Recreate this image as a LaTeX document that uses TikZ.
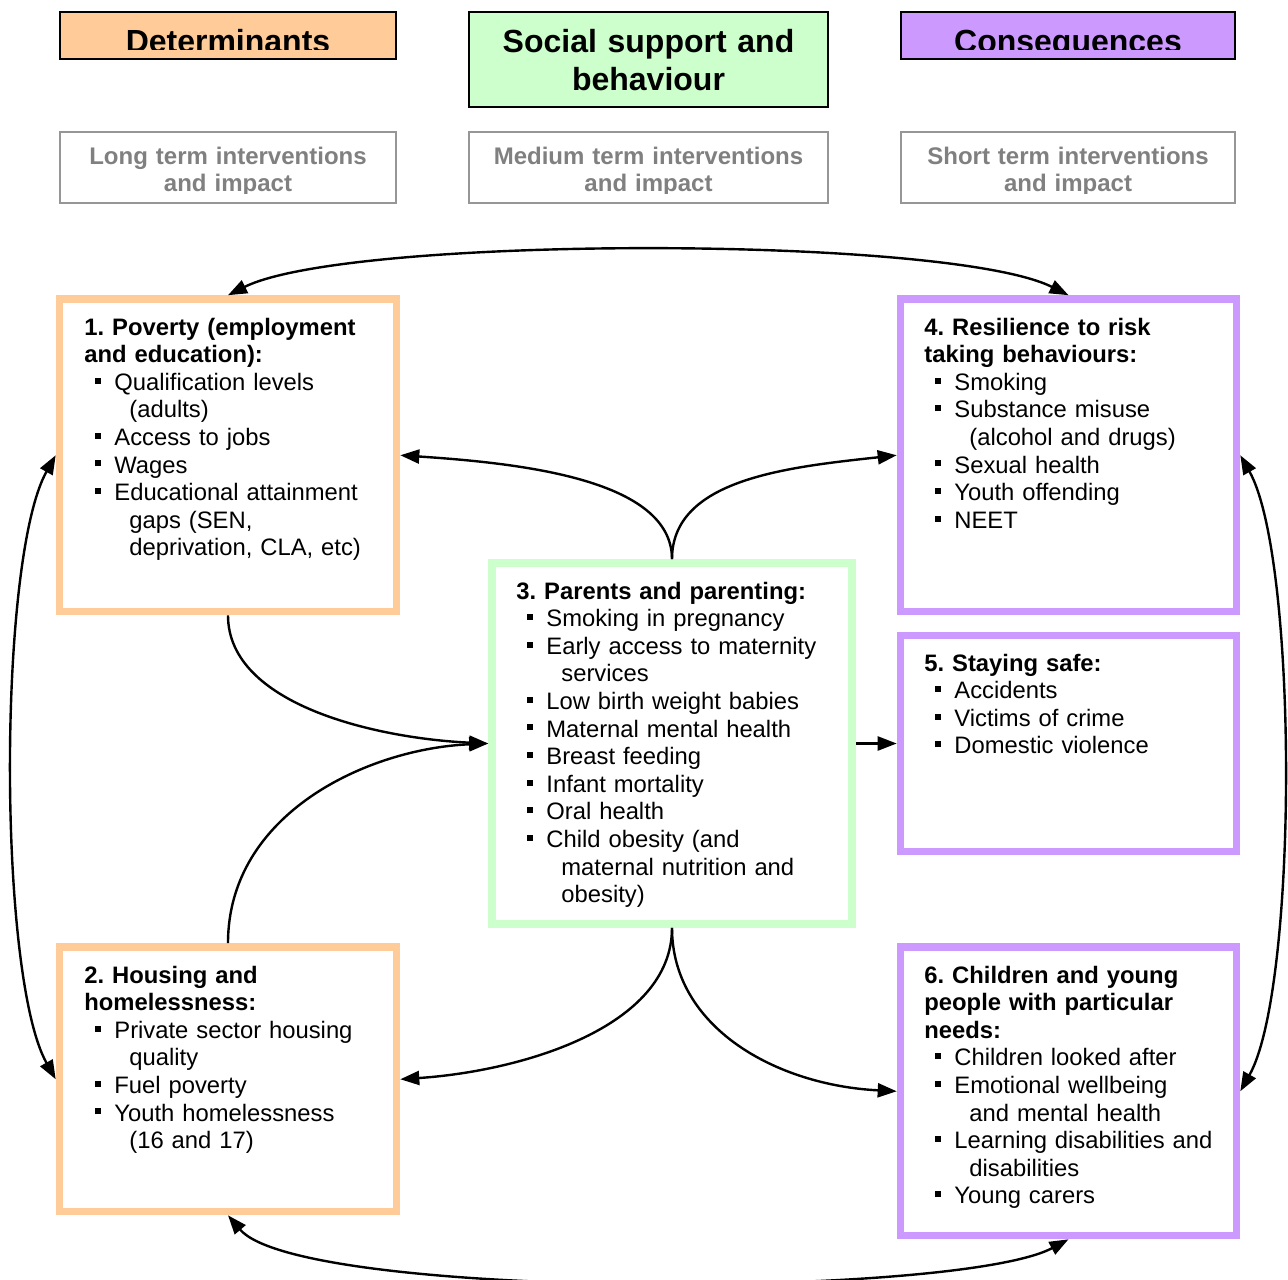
\documentclass[tikz,border=0pt]{standalone}
\usepackage{fontspec}
\setmainfont{Liberation Sans}
\usetikzlibrary{arrows.meta,fit}
\definecolor{detfill}{HTML}{FFCC99}
\definecolor{socfill}{HTML}{CCFFCC}
\definecolor{confill}{HTML}{CC99FF}
\definecolor{intgray}{HTML}{808080}
\definecolor{intborder}{HTML}{969696}
\newcommand{\bul}{\makebox[15pt][l]{\hspace*{5.5pt}\rule[3.35pt]{3pt}{3pt}}}
\newcommand{\cnt}{\hspace*{22.5pt}}
\frenchspacing
\begin{document}
\begin{tikzpicture}[x=0.5pt,y=-0.5pt,
  bigbox/.style={line width=3.8pt, inner sep=0pt, fill=white},
  hdbox/.style={draw=black, line width=1pt, inner sep=0pt},
  intbox/.style={draw=intborder, line width=1pt, inner sep=0pt, fill=white},
  bodytxt/.style={anchor=base west, inner sep=0pt, text width=200pt, align=left, font=\fontsize{11.9}{13.8}\selectfont},
  hdtxt/.style={anchor=base, inner sep=0pt, text width=200pt, align=center, font=\bfseries\fontsize{16}{18.8}\selectfont},
  inttxt/.style={anchor=base, inner sep=0pt, text width=200pt, align=center, text=intgray, font=\bfseries\fontsize{12}{13.8}\selectfont},
  conn/.style={line width=1.2pt, -{Triangle[length=9.5pt,width=7pt]}},
  conntwo/.style={line width=1.2pt, {Triangle[length=9.5pt,width=7pt]}-{Triangle[length=9.5pt,width=7pt]}}
]
\useasboundingbox (0,0) rectangle (1288,1279);
\fill[white] (0,0) rectangle (1288,1279);
\clip (0,0) rectangle (1288,1279);

% header boxes
\node[hdbox, fill=detfill, fit={(60,12) (396,59)}] (h1) {};
\node[hdbox, fill=socfill, fit={(469,12) (828,107)}] (h2) {};
\node[hdbox, fill=confill, fit={(901,12) (1235,59)}] (h3) {};
\begin{scope}
  \clip (60,11) rectangle (396,49.3);
  \node[hdtxt] (h1t) at (228,53) {Determinants};
\end{scope}
\node[hdtxt] (h2t) at (648.5,53) {Social support and\\behaviour};
\begin{scope}
  \clip (901,11) rectangle (1235,49.3);
  \node[hdtxt] (h3t) at (1068,53) {Consequences};
\end{scope}

% intervention boxes
\node[intbox, fit={(60,132) (396,203)}] (i1) {};
\node[intbox, fit={(469,132) (828,203)}] (i2) {};
\node[intbox, fit={(901,132) (1235,203)}] (i3) {};
\begin{scope}
  \clip (60,131) rectangle (1235,193);
  \node[inttxt] (i1t) at (228,164) {Long term interventions\\and impact};
  \node[inttxt] (i2t) at (648.5,164) {Medium term interventions\\and impact};
  \node[inttxt] (i3t) at (1068,164) {Short term interventions\\and impact};
\end{scope}

% main boxes
\node[bigbox, draw=detfill, fit={(59.5,299) (396.5,611.5)}] (b1) {};
\node[bigbox, draw=detfill, fit={(59.5,947) (396.5,1211.5)}] (b2) {};
\node[bigbox, draw=socfill, fit={(492,563) (852,924)}] (b3) {};
\node[bigbox, draw=confill, fit={(900.5,299) (1236.5,611.5)}] (b4) {};
\node[bigbox, draw=confill, fit={(900.5,635.5) (1236.5,851.5)}] (b5) {};
\node[bigbox, draw=confill, fit={(900.5,947) (1236.5,1235.5)}] (b6) {};

% texts
\node[bodytxt] (t1) at (84,335) {\textbf{1. Poverty (employment}\\
\textbf{and education):}\\
\bul Qualification levels\\
\cnt (adults)\\
\bul Access to jobs\\
\bul Wages\\
\bul Educational attainment\\
\cnt gaps (SEN,\\
\cnt deprivation, CLA, etc)};

\node[bodytxt] (t2) at (84,983) {\textbf{2. Housing and}\\
\textbf{homelessness:}\\
\bul Private sector housing\\
\cnt quality\\
\bul Fuel poverty\\
\bul Youth homelessness\\
\cnt (16 and 17)};

\node[bodytxt] (t3) at (516,599) {\textbf{3. Parents and parenting:}\\
\bul Smoking in pregnancy\\
\bul Early access to maternity\\
\cnt services\\
\bul Low birth weight babies\\
\bul Maternal mental health\\
\bul Breast feeding\\
\bul Infant mortality\\
\bul Oral health\\
\bul Child obesity (and\\
\cnt maternal nutrition and\\
\cnt obesity)};

\node[bodytxt] (t4) at (924,335) {\textbf{4. Resilience to risk}\\
\textbf{taking behaviours:}\\
\bul Smoking\\
\bul Substance misuse\\
\cnt (alcohol and drugs)\\
\bul Sexual health\\
\bul Youth offending\\
\bul NEET};

\node[bodytxt] (t5) at (924,671) {\textbf{5. Staying safe:}\\
\bul Accidents\\
\bul Victims of crime\\
\bul Domestic violence};

\node[bodytxt] (t6) at (924,983) {\textbf{6. Children and young}\\
\textbf{people with particular}\\
\textbf{needs:}\\
\bul Children looked after\\
\bul Emotional wellbeing\\
\cnt and mental health\\
\bul Learning disabilities and\\
\cnt disabilities\\
\bul Young carers};

% connectors
\draw[conntwo] (b1.north) .. controls +(120,-60) and +(-120,-60) .. (b4.north);
\draw[conntwo] (b2.south) .. controls +(72,85) and +(-110,59) .. (b6.south);
\draw[conntwo] (b1.west) .. controls +(-58,103) and +(-58,-103) .. (b2.west);
\draw[conntwo] (b4.east) .. controls +(58,103) and +(58,-103) .. (b6.east);

\draw[conn] (b3.north) .. controls +(0,-80) and +(120,8) .. (b1.east);
\draw[conn] (b3.north) .. controls +(0,-80) and +(-110,12) .. (b4.west);
\draw[conn] (b1.south) .. controls +(0,90) and +(-110,-5) .. (b3.west);
\draw[conn] (b2.north) .. controls +(0,-130) and +(-120,5) .. (b3.west);
\draw[conn] (b3.east) -- (b5.west);
\draw[conn] (b3.south) .. controls +(0,100) and +(120,-8) .. (b2.east);
\draw[conn] (b3.south) .. controls +(0,100) and +(-120,-6) .. (b6.west);
\end{tikzpicture}
\end{document}
